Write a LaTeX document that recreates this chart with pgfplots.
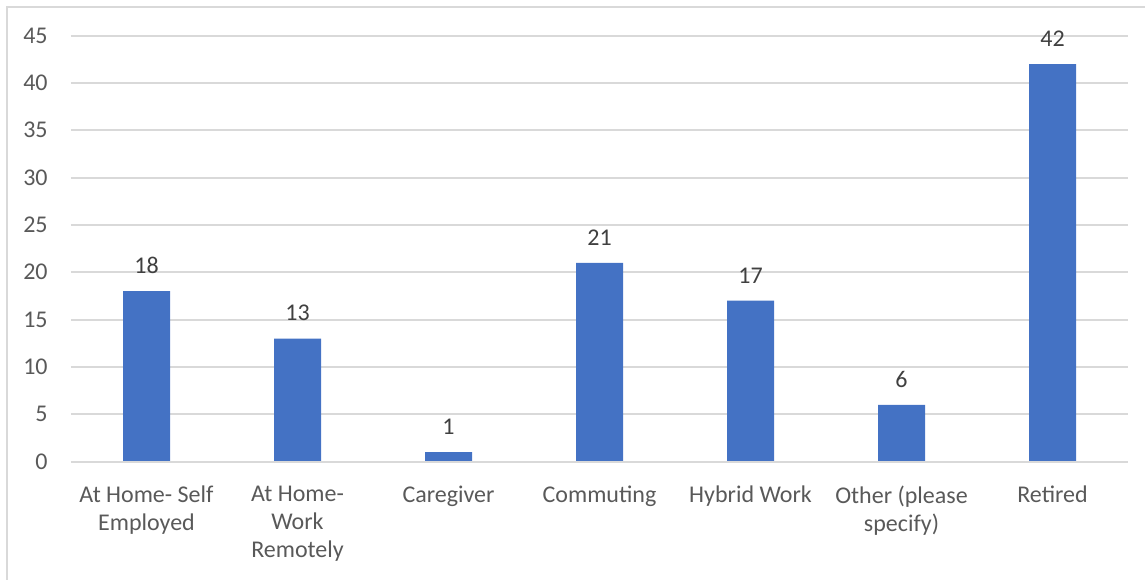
\documentclass[border=0pt]{standalone}
\usepackage{fontspec}
\setmainfont{Carlito}
\usepackage{pgfplots}
\pgfplotsset{compat=1.18}
\definecolor{barblue}{HTML}{4472C4}
\definecolor{gridgray}{HTML}{D9D9D9}
\definecolor{ticktext}{HTML}{595959}
\definecolor{labeltext}{HTML}{404040}

\begin{document}
\begin{tikzpicture}[x=1bp,y=1bp]
\path[use as bounding box] (-35.5,-58.7) rectangle (537,230.8);
\draw[gridgray, line width=1bp] (-32,-80) rectangle (560,227.3);
\begin{axis}[
  at={(0,0)}, anchor=south west,
  scale only axis, width=528.5bp, height=213bp,
  ybar, bar width=23.5bp,
  xmin=-0.5, xmax=6.5, ymin=0, ymax=45,
  xtick=data,
  xticklabels={{At Home- Self\\Employed},{At Home-\\Work\\Remotely},{Caregiver},{Commuting},{Hybrid Work},{Other (please\\specify)},{Retired}},
  ytick={0,5,...,45},
  axis line style={draw=none},
  major tick length=0pt,
  ymajorgrids, grid style={gridgray, line width=1bp},
  /pgf/number format/assume math mode=true,
  tick label style={font=\fontsize{12bp}{14bp}\selectfont, text=ticktext},
  yticklabel style={inner sep=0pt, xshift=-11.5bp},
  xticklabel style={align=center, inner sep=0pt, yshift=-12bp},
  nodes near coords,
  every node near coord/.append style={font=\fontsize{12bp}{14bp}\selectfont, text=labeltext, inner sep=0pt, yshift=8.5bp},
]
\addplot[fill=barblue, draw=none] coordinates {(0,18) (1,13) (2,1) (3,21) (4,17) (5,6) (6,42)};
\draw[gridgray, line width=1bp] (axis cs:-0.5,0) -- (axis cs:6.5,0);
\end{axis}
\end{tikzpicture}
\end{document}
